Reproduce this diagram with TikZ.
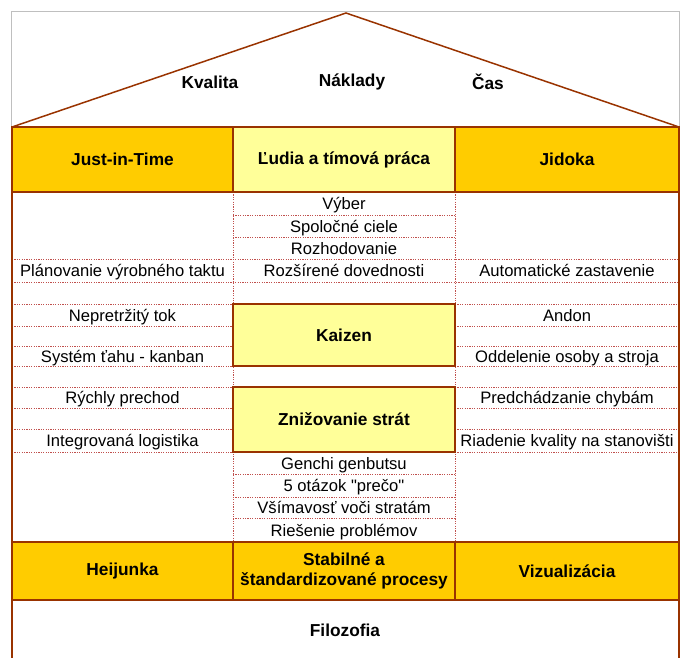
\documentclass[tikz,border=0pt]{standalone}
\usepackage{fontspec}
\setmainfont{Liberation Sans}[Ligatures=TeXOff]
\definecolor{gold}{HTML}{FFCC00}
\definecolor{paleyellow}{HTML}{FFFF99}
\definecolor{housebrown}{HTML}{993300}
\definecolor{dotbrown}{HTML}{C0504D}
\begin{document}
\begin{tikzpicture}[x=1pt,y=-1pt,
  item/.style={font=\fontsize{16.6}{18}\selectfont,inner sep=0pt,text height=12pt,text depth=3.5pt,yshift=-2pt},
  bolditem/.style={font=\fontsize{17.3}{19}\selectfont\bfseries,inner sep=0pt},
  headcell/.style={draw=housebrown,line width=2pt,font=\fontsize{17.3}{20}\selectfont\bfseries,align=center,inner sep=0pt},
  gridline/.style={draw=dotbrown,line width=0.8pt,dash pattern=on 1.2pt off 1.2pt}]
\clip (0,0) rectangle (683,657);

% Frame and roof
\draw[black!25,line width=1pt] (11,11) rectangle (679,680);
\draw[housebrown,line width=1.5pt] (12,127) -- (346,13) -- (679,127);
\node[bolditem] (kvalita) at (210,82) {Kvalita};
\node[bolditem] (naklady) at (352,82) {Náklady};
\node[bolditem] (cas) at (488,82) {Čas};

% Dotted grid
\draw[gridline] (233,192) -- (233,542) (455,192) -- (455,542);
\draw[gridline] (233,215) -- (455,215) (233,237) -- (455,237)
  (233,474) -- (455,474) (233,497) -- (455,497) (233,518) -- (455,518);
\draw[gridline] (12,259) -- (679,259) (12,282) -- (679,282);
\draw[gridline] (12,304) -- (233,304) (455,304) -- (679,304)
  (12,326) -- (233,326) (455,326) -- (679,326)
  (12,346) -- (233,346) (455,346) -- (679,346)
  (12,366) -- (233,366) (455,366) -- (679,366)
  (12,387) -- (233,387) (455,387) -- (679,387)
  (12,408) -- (233,408) (455,408) -- (679,408)
  (12,429) -- (233,429) (455,429) -- (679,429)
  (12,452) -- (233,452) (455,452) -- (679,452);

% Header row
\node[headcell,fill=gold,minimum width=221pt,minimum height=65pt] (jit) at (122.5,159.5) {Just-in-Time};
\node[headcell,fill=paleyellow,minimum width=222pt,minimum height=65pt] (ludia) at (344,159.5) {Ľudia a tímová práca};
\node[headcell,fill=gold,minimum width=224pt,minimum height=65pt] (jidoka) at (567,159.5) {Jidoka};

% Center column
\node[item] (vyber) at (344,203.5) {Výber};
\node[item] (ciele) at (344,226) {Spoločné ciele};
\node[item] (rozhod) at (344,248) {Rozhodovanie};
\node[item] (dovednosti) at (344,270.5) {Rozšírené dovednosti};
\node[headcell,fill=paleyellow,minimum width=222pt,minimum height=62pt] (kaizen) at (344,335) {Kaizen};
\node[headcell,fill=paleyellow,minimum width=222pt,minimum height=65pt] (straty) at (344,419.5) {Znižovanie strát};
\node[item] (genchi) at (344,463) {Genchi genbutsu};
\node[item] (preco) at (344,485.5) {5 otázok "prečo"};
\node[item] (vsimavost) at (344,507.5) {Všímavosť voči stratám};
\node[item] (problemy) at (344,530) {Riešenie problémov};

% Left column
\node[item] (takt) at (122.5,270.5) {Plánovanie výrobného taktu};
\node[item] (tok) at (122.5,315) {Nepretržitý tok};
\node[item] (kanban) at (122.5,356) {Systém ťahu - kanban};
\node[item] (prechod) at (122.5,397.5) {Rýchly prechod};
\node[item] (logistika) at (122.5,440.5) {Integrovaná logistika};

% Right column
\node[item] (zastavenie) at (567,270.5) {Automatické zastavenie};
\node[item] (andon) at (567,315) {Andon};
\node[item] (oddelenie) at (567,356) {Oddelenie osoby a stroja};
\node[item] (chyby) at (567,397.5) {Predchádzanie chybám};
\node[item] (kvalitastan) at (567,440.5) {Riadenie kvality na stanovišti};

% Base rows
\node[headcell,fill=gold,minimum width=221pt,minimum height=58pt] (heijunka) at (122.5,571) {Heijunka};
\node[headcell,fill=gold,minimum width=222pt,minimum height=58pt] (procesy) at (344,571) {Stabilné a\\štandardizované procesy};
\node[headcell,fill=gold,minimum width=224pt,minimum height=58pt] (vizual) at (567,571) {Vizualizácia};
\draw[housebrown,line width=2pt] (12,600) -- (679,600);
\node[bolditem] (filozofia) at (345,630) {Filozofia};

% Outer walls
\draw[housebrown,line width=2.5pt] (12,127) -- (12,680) (679,127) -- (679,680);

\end{tikzpicture}
\end{document}
